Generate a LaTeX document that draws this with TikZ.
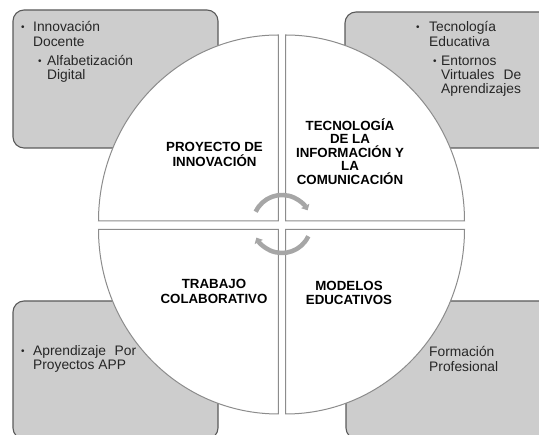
\documentclass[tikz,border=0pt]{standalone}
\usepackage{fontspec}
\setmainfont{Liberation Sans}
\usetikzlibrary{arrows.meta}
\definecolor{boxfill}{HTML}{CDCDCD}
\definecolor{boxline}{HTML}{5A5A5A}
\definecolor{quadline}{HTML}{8C8C8C}
\definecolor{arrowgray}{HTML}{A6A6A6}
\definecolor{txtcol}{HTML}{262626}
\tikzset{
  sidebox/.style={fill=boxfill, draw=boxline, line width=1.1pt, rounded corners=11pt},
  quad/.style={fill=white, draw=quadline, line width=1pt},
  body/.style={inner sep=0pt, anchor=base west, text=txtcol, font=\fontsize{13.8}{15}\selectfont},
  bul/.style={inner sep=0pt, anchor=base west, text=txtcol, font=\fontsize{10}{12}\selectfont},
  title/.style={inner sep=0pt, anchor=base, text=black, font=\bfseries\fontsize{13.3}{15}\selectfont},
  cyc/.style={draw=arrowgray, line width=4.5pt, -{Triangle[width=9pt,length=5pt]}}
}
\begin{document}
\begin{tikzpicture}[x=1pt,y=1pt]
\useasboundingbox (0,0) rectangle (539,435);
\clip (0,0) rectangle (539,435);
% side boxes
\draw[sidebox] (13,287) rectangle (218,425);
\draw[sidebox] (345,287) rectangle (560,423);
\draw[sidebox] (13,-4) rectangle (218,134);
\draw[sidebox] (346,-4) rectangle (560,134);
% quadrants
\draw[quad] (278.3,214) -- (98.5,214) arc[start angle=180, end angle=90, x radius=179.8, y radius=186] -- cycle;
\draw[quad] (285.7,214) -- (285.7,400) arc[start angle=90, end angle=0, x radius=178.8, y radius=186] -- cycle;
\draw[quad] (278.3,205.7) -- (98.5,205.7) arc[start angle=180, end angle=270, x radius=179.8, y radius=184.7] -- cycle;
\draw[quad] (285.7,205.7) -- (464.5,205.7) arc[start angle=0, end angle=-90, x radius=178.8, y radius=184.7] -- cycle;
% cycle arrows
\coordinate (cc) at (282,211);
\draw[cyc] ([shift={(155:29)}]cc) arc[start angle=155, end angle=28, radius=29];
\draw[cyc] ([shift={(-25:29)}]cc) arc[start angle=-25, end angle=-152, radius=29];
% titles
\node[title] (p1) at (214.5,283) {PROYECTO DE};
\node[title] (p2) at (214.5,268) {INNOVACIÓN};
\node[title] (t1) at (350,304) {TECNOLOGÍA};
\node[title] (t2) at (350,291) {DE LA};
\node[title] (t3) at (350,277) {INFORMACIÓN Y};
\node[title] (t4) at (350,264) {LA};
\node[title] (t5) at (350,250) {COMUNICACIÓN};
\node[title] (w1) at (214,146) {TRABAJO};
\node[title] (w2) at (214,131) {COLABORATIVO};
\node[title] (m1) at (349,144) {MODELOS};
\node[title] (m2) at (349,130) {EDUCATIVOS};
% top-left box text
\node[bul] (b1) at (21,404) {•};
\node[body] (a1) at (33,403) {Innovación};
\node[body] (a2) at (33,388) {Docente};
\node[bul] (b2) at (38,370) {•};
\node[body] (a3) at (47,369) {Alfabetización};
\node[body] (a4) at (47,355) {Digital};
% top-right box text
\node[bul] (b3) at (416,404) {•};
\node[body] (c1) at (429,403) {Tecnología};
\node[body] (c2) at (429,388) {Educativa};
\node[bul] (b4) at (433,370) {•};
\node[body] (c3) at (441,369) {Entornos};
\node[body] (c4) at (441,355) {\makebox[80pt][s]{Virtuales De}};
\node[body] (c5) at (441,341) {Aprendizajes};
% bottom-left box text
\node[bul] (b5) at (21,80) {•};
\node[body] (d1) at (33,79) {\makebox[103pt][s]{Aprendizaje Por}};
\node[body] (d2) at (33,65) {Proyectos APP};
% bottom-right box text
\node[body] (e1) at (429,78) {Formación};
\node[body] (e2) at (429,63) {Profesional};
\end{tikzpicture}
\end{document}
